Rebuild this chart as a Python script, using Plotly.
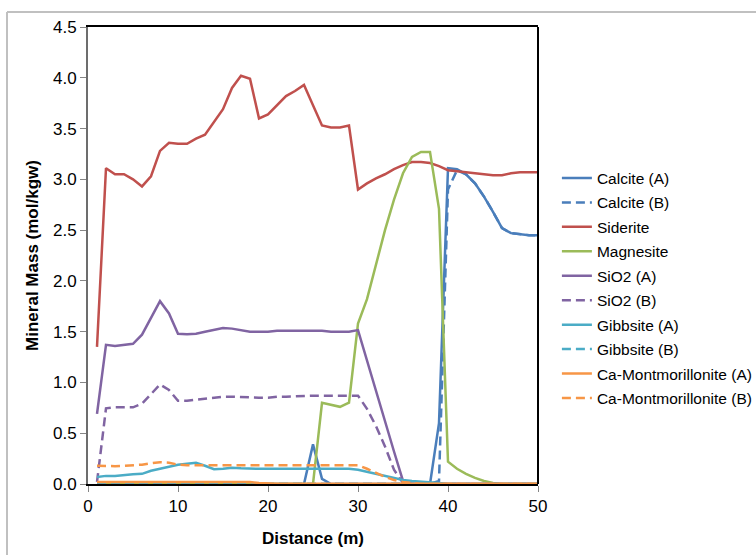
import plotly.graph_objects as go

distance = list(range(1, 51))

calcite_a = [0]*24 + [0.39, 0.05] + [0]*12 + [0.60, 3.11, 3.10, 3.05, 2.96, 2.83, 2.68, 2.52, 2.47, 2.46, 2.45, 2.45]
calcite_b = [0]*38 + [0.03, 2.90, 3.09, 3.05, 2.96, 2.83, 2.68, 2.52, 2.47, 2.46, 2.45, 2.45]
siderite = [1.35, 3.11, 3.05, 3.05, 3.00, 2.93, 3.03, 3.28, 3.36, 3.35,
            3.35, 3.40, 3.44, 3.56, 3.69, 3.90, 4.02, 3.99, 3.60, 3.64,
            3.73, 3.82, 3.87, 3.93, 3.73, 3.53, 3.51, 3.51, 3.53, 2.90,
            2.96, 3.01, 3.05, 3.10, 3.14, 3.17, 3.17, 3.16, 3.13, 3.09,
            3.08, 3.07, 3.06, 3.05, 3.04, 3.04, 3.06, 3.07, 3.07, 3.07]
magnesite = [0]*25 + [0.80, 0.78, 0.76, 0.80, 1.58, 1.82, 2.17, 2.50, 2.80, 3.06,
                      3.22, 3.27, 3.27, 2.71, 0.22, 0.15, 0.10, 0.06, 0.03, 0.01,
                      0, 0, 0, 0, 0]
sio2_a = [0.69, 1.37, 1.36, 1.37, 1.38, 1.47, 1.63, 1.80, 1.68, 1.48,
          1.475, 1.48, 1.50, 1.52, 1.535, 1.53, 1.515, 1.50, 1.50, 1.50,
          1.51, 1.51, 1.51, 1.51, 1.51, 1.51, 1.50, 1.50, 1.50, 1.515,
          1.21, 0.92, 0.62, 0.32, 0.03] + [0]*15
sio2_b = [0.02, 0.745, 0.755, 0.755, 0.755, 0.79, 0.89, 0.98, 0.925, 0.82,
          0.82, 0.83, 0.835, 0.85, 0.86, 0.86, 0.855, 0.85, 0.85, 0.85,
          0.86, 0.86, 0.865, 0.87, 0.87, 0.87, 0.87, 0.87, 0.87, 0.87,
          0.74, 0.57, 0.37, 0.14, 0.01] + [0]*15
gibbsite_a = [0.07, 0.08, 0.08, 0.09, 0.095, 0.10, 0.13, 0.15, 0.17, 0.19,
              0.20, 0.21, 0.18, 0.145, 0.15, 0.16, 0.155, 0.15, 0.15, 0.15,
              0.148, 0.148, 0.15, 0.15, 0.15, 0.15, 0.15, 0.15, 0.15, 0.14,
              0.12, 0.10, 0.08, 0.06, 0.04, 0.03, 0.025, 0.02, 0.01] + [0]*11
gibbsite_b = [0]*50
camont_a = [0.02]*18 + [0.01] + [0.003]*31
camont_b = [0.18, 0.175, 0.175, 0.18, 0.185, 0.19, 0.205, 0.215, 0.21, 0.19,
            0.185, 0.185, 0.185, 0.185, 0.185, 0.185, 0.185, 0.185, 0.185, 0.185,
            0.185, 0.185, 0.185, 0.185, 0.185, 0.185, 0.185, 0.185, 0.185, 0.185,
            0.15, 0.11, 0.07, 0.04, 0.02, 0.01] + [0]*14

series = [
    ("Calcite (A)", calcite_a, "#4A7EBB", "solid"),
    ("Calcite (B)", calcite_b, "#4A7EBB", "9px,5px"),
    ("Siderite", siderite, "#C0504D", "solid"),
    ("Magnesite", magnesite, "#9BBB59", "solid"),
    ("SiO2 (A)", sio2_a, "#8064A2", "solid"),
    ("SiO2 (B)", sio2_b, "#8064A2", "9px,5px"),
    ("Gibbsite (A)", gibbsite_a, "#4BACC6", "solid"),
    ("Gibbsite (B)", gibbsite_b, "#4BACC6", "9px,5px"),
    ("Ca-Montmorillonite (A)", camont_a, "#F79646", "solid"),
    ("Ca-Montmorillonite (B)", camont_b, "#F79646", "9px,5px"),
]

fig = go.Figure()
for name, vals, color, dash in series:
    fig.add_trace(go.Scatter(x=distance, y=vals, name=name, mode="lines",
                             legendgroup=name,
                             line=dict(color=color, width=2.5, dash=dash)))

font = "Liberation Sans, Arial, sans-serif"
fig.update_layout(
    width=756, height=555,
    margin=dict(l=88, r=218, t=27, b=71, autoexpand=False),
    paper_bgcolor="white", plot_bgcolor="white",
    font=dict(family=font, size=17, color="black"),
    showlegend=True,
    legend=dict(x=1.042, y=0.706, xanchor="left", yanchor="top",
                font=dict(size=15.5, color="black"), bgcolor="rgba(0,0,0,0)",
                traceorder="grouped", tracegroupgap=1.3),
    xaxis=dict(range=[0, 50], tickvals=[0, 10, 20, 30, 40, 50],
               showgrid=False, zeroline=False,
               showline=True, linecolor="#000000", linewidth=2, mirror=True,
               ticks="outside", ticklen=6, tickcolor="#868686", tickwidth=1,
               title=dict(text="<b>Distance (m)</b>", standoff=17,
                          font=dict(size=17))),
    yaxis=dict(range=[0, 4.5], tickvals=[0, 0.5, 1, 1.5, 2, 2.5, 3, 3.5, 4, 4.5],
               tickformat=".1f",
               showgrid=False, zeroline=False,
               showline=True, linecolor="#6d6d6d", linewidth=2,
               ticks="outside", ticklen=6, tickcolor="#868686", tickwidth=1,
               title=dict(text="<b>Mineral Mass (mol/kgw)</b>", standoff=10,
                          font=dict(size=17))),
    shapes=[
        dict(type="line", xref="paper", yref="paper", x0=1, x1=1, y0=0, y1=1,
             line=dict(color="black", width=2)),
        dict(type="line", xref="paper", yref="paper", x0=-0.18, x1=1.5,
             y0=1.0328, y1=1.0328, line=dict(color="#c0c0c0", width=2)),
        dict(type="line", xref="paper", yref="paper", x0=-0.18, x1=-0.18,
             y0=1.0328, y1=-0.2, line=dict(color="#c0c0c0", width=2)),
    ],
)

fig.write_html("out.html")
